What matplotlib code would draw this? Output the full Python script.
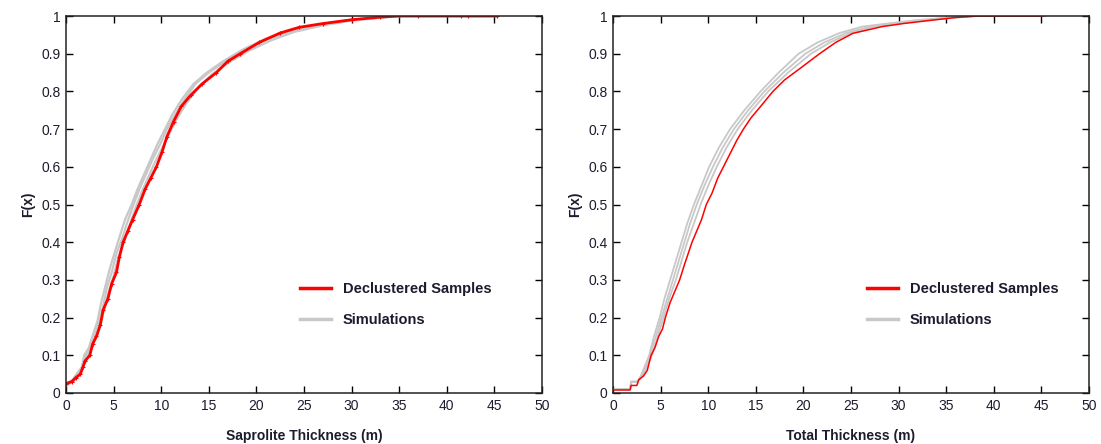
import matplotlib
matplotlib.use("Agg")
from matplotlib import pyplot as plt
from matplotlib.ticker import FormatStrFormatter
import numpy as np

plt.rcParams['font.family'] = ['Liberation Sans', 'DejaVu Sans']

# ---- Saprolite thickness: declustered sample CDF (x, F) ----
sap_red_x = [0, 0.6, 1.0, 1.5, 1.8, 2.0, 2.5, 2.8, 3.2, 3.6, 3.9, 4.4, 4.8, 5.3, 5.6, 6.0,
             6.5, 7.0, 7.7, 8.3, 8.9, 9.5, 10.1, 10.6, 11.3, 12.1, 13.1, 14.3, 15.8, 17.0,
             18.3, 20.3, 22.5, 24.5, 27.0, 30.0, 33.0, 35.0, 37.0, 41.5, 42.2, 45.3]
sap_red_f = [0.025, 0.03, 0.04, 0.05, 0.07, 0.085, 0.10, 0.13, 0.15, 0.18, 0.22, 0.25, 0.29,
             0.32, 0.36, 0.40, 0.43, 0.46, 0.50, 0.54, 0.57, 0.60, 0.64, 0.68, 0.72, 0.76,
             0.79, 0.82, 0.85, 0.88, 0.90, 0.93, 0.955, 0.97, 0.98, 0.99, 0.997, 1.0, 1.0,
             1.0, 1.0, 1.0]

# simulations
sap_sim1_x = [0, 0.8, 1.2, 1.6, 1.9, 2.4, 2.9, 3.3, 3.7, 4.2, 4.6, 5.2, 5.7, 6.2, 6.9, 7.5,
              8.2, 8.9, 9.6, 10.4, 11.2, 12.2, 13.4, 14.8, 16.5, 18.5, 21.0, 23.5, 26.0,
              29.0, 32.0, 34.5, 45.0]
sap_sim1_f = [0.02, 0.03, 0.05, 0.06, 0.10, 0.12, 0.16, 0.19, 0.24, 0.29, 0.33, 0.38, 0.42,
              0.46, 0.50, 0.54, 0.58, 0.62, 0.66, 0.70, 0.74, 0.78, 0.82, 0.85, 0.88, 0.91,
              0.94, 0.96, 0.975, 0.987, 0.995, 1.0, 1.0]
sap_sim2_x = [0, 0.7, 1.1, 1.7, 2.1, 2.6, 3.0, 3.5, 3.9, 4.3, 4.8, 5.3, 5.9, 6.4, 7.1, 7.7,
              8.4, 9.1, 9.9, 10.6, 11.5, 12.5, 13.6, 15.0, 16.8, 18.8, 21.3, 23.8, 26.5,
              29.5, 32.5, 34.8, 45.0]
sap_sim2_f = [0.025, 0.035, 0.05, 0.07, 0.10, 0.12, 0.15, 0.19, 0.23, 0.28, 0.32, 0.37, 0.41,
              0.45, 0.50, 0.54, 0.58, 0.62, 0.66, 0.70, 0.74, 0.78, 0.82, 0.85, 0.88, 0.91,
              0.94, 0.96, 0.975, 0.988, 0.995, 1.0, 1.0]
sap_sim3_x = [0, 0.6, 1.3, 1.8, 2.2, 2.7, 3.1, 3.6, 4.0, 4.5, 5.0, 5.5, 6.1, 6.6, 7.3, 7.9,
              8.6, 9.3, 10.1, 10.9, 11.7, 12.7, 13.9, 15.3, 17.0, 19.0, 21.5, 24.0, 26.8,
              29.8, 33.0, 35.0, 45.0]
sap_sim3_f = [0.02, 0.03, 0.05, 0.07, 0.09, 0.12, 0.15, 0.18, 0.22, 0.27, 0.31, 0.36, 0.40,
              0.44, 0.49, 0.53, 0.57, 0.61, 0.65, 0.69, 0.73, 0.77, 0.81, 0.845, 0.875, 0.905,
              0.935, 0.958, 0.974, 0.987, 0.995, 1.0, 1.0]

# ---- Total thickness: declustered sample CDF ----
tot_red_x = [0, 1.8, 1.9, 2.5, 2.7, 3.2, 3.6, 4.0, 4.4, 4.8, 5.2, 5.5, 6.0, 6.5, 7.0, 7.5,
             7.9, 8.3, 8.8, 9.3, 9.8, 10.4, 11.0, 11.6, 12.2, 13.0, 13.7, 14.5, 15.5, 16.8,
             18.0, 19.6, 21.7, 23.4, 25.2, 28.3, 30.5, 33.2, 36.0, 38.5, 45.2]
tot_red_f = [0.008, 0.008, 0.02, 0.02, 0.035, 0.045, 0.06, 0.10, 0.12, 0.15, 0.17, 0.20,
             0.24, 0.27, 0.30, 0.34, 0.37, 0.40, 0.43, 0.46, 0.50, 0.53, 0.57, 0.60, 0.63,
             0.67, 0.70, 0.73, 0.76, 0.80, 0.83, 0.86, 0.90, 0.93, 0.954, 0.972, 0.98,
             0.988, 0.996, 1.0, 1.0]

tot_sim_f = [0.01, 0.01, 0.03, 0.03, 0.05, 0.10, 0.15, 0.20, 0.25, 0.30, 0.35, 0.40, 0.45,
             0.50, 0.55, 0.60, 0.65, 0.70, 0.75, 0.80, 0.85, 0.90, 0.93, 0.955, 0.972,
             0.988, 1.0, 1.0]
tot_sim1_x = [0, 1.8, 1.9, 2.6, 3.0, 3.8, 4.3, 4.9, 5.4, 6.0, 6.6, 7.2, 7.8, 8.5, 9.3,
              10.1, 11.1, 12.3, 13.8, 15.5, 17.4, 19.5, 21.5, 23.8, 26.2, 31.5, 37.1, 45.5]
tot_sim2_x = [0, 1.8, 1.9, 2.6, 3.1, 3.9, 4.5, 5.1, 5.7, 6.3, 6.9, 7.5, 8.1, 8.8, 9.6,
              10.5, 11.5, 12.7, 14.2, 15.9, 17.9, 20.2, 22.2, 24.5, 27.0, 32.0, 37.5, 45.5]
tot_sim3_x = [0, 1.8, 1.9, 2.6, 3.2, 4.1, 4.7, 5.3, 5.9, 6.6, 7.2, 7.8, 8.5, 9.2, 10.0,
              10.9, 11.9, 13.1, 14.6, 16.3, 18.4, 20.8, 22.8, 25.0, 27.5, 32.5, 38.0, 45.5]

panels = [
    ("Saprolite Thickness (m)", sap_red_x, sap_red_f,
     [(sap_sim1_x, sap_sim1_f), (sap_sim2_x, sap_sim2_f), (sap_sim3_x, sap_sim3_f)],
     2.0, 1.6, 0.465),
    ("Total Thickness (m)", tot_red_x, tot_red_f,
     [(tot_sim1_x, tot_sim_f), (tot_sim2_x, tot_sim_f), (tot_sim3_x, tot_sim_f)],
     1.1, 1.3, 0.5066),
]

fig = plt.figure(figsize=(11.01, 4.44), dpi=100)
lefts = [66 / 1101, 613 / 1101]
txt = '#1c1c2e'

for left, (xlab, rx, rf, sims, rlw, glw, legx) in zip(lefts, panels):
    ax = fig.add_axes([left, 1 - 393 / 444, 476 / 1101, 377 / 444])
    for sx, sf in sims:
        ax.plot(sx, sf, color='#c8c8c8', lw=glw)
    ax.plot(rx, rf, color='#ff0000', lw=rlw)
    if rlw > 1.5:
        ax.plot(rx, rf, ls='none', marker='+', ms=3, mew=0.8, color='#ff0000')
    # legend proxies
    ax.plot([], [], color='#ff0000', lw=2.5, label='Declustered Samples')
    ax.plot([], [], color='#c8c8c8', lw=2.5, label='Simulations')
    handles, labels = ax.get_legend_handles_labels()
    ax.legend(handles, labels, frameon=False, loc='lower left',
              bbox_to_anchor=(legx, 0.139), handlelength=2.1, labelspacing=1.2,
              prop={'weight': 'bold', 'size': 10.5}, labelcolor=txt)

    ax.set_xlim(0, 50)
    ax.set_ylim(0, 1)
    ax.set_xticks(np.arange(0, 51, 5))
    ax.set_yticks(np.arange(0, 1.01, 0.1))
    ax.yaxis.set_major_formatter(FormatStrFormatter('%g'))
    ax.tick_params(direction='in', top=True, right=True, length=5, width=1,
                   labelsize=10, labelcolor=txt, pad=4)
    for s in ax.spines.values():
        s.set_linewidth(1.1)
        s.set_color('#222222')
    ax.set_xlabel(xlab, fontweight='bold', fontsize=10, color=txt, labelpad=12)
    ax.set_ylabel('F(x)', fontweight='bold', fontsize=10, color=txt, labelpad=4)

plt.savefig('out.png', dpi=100)
